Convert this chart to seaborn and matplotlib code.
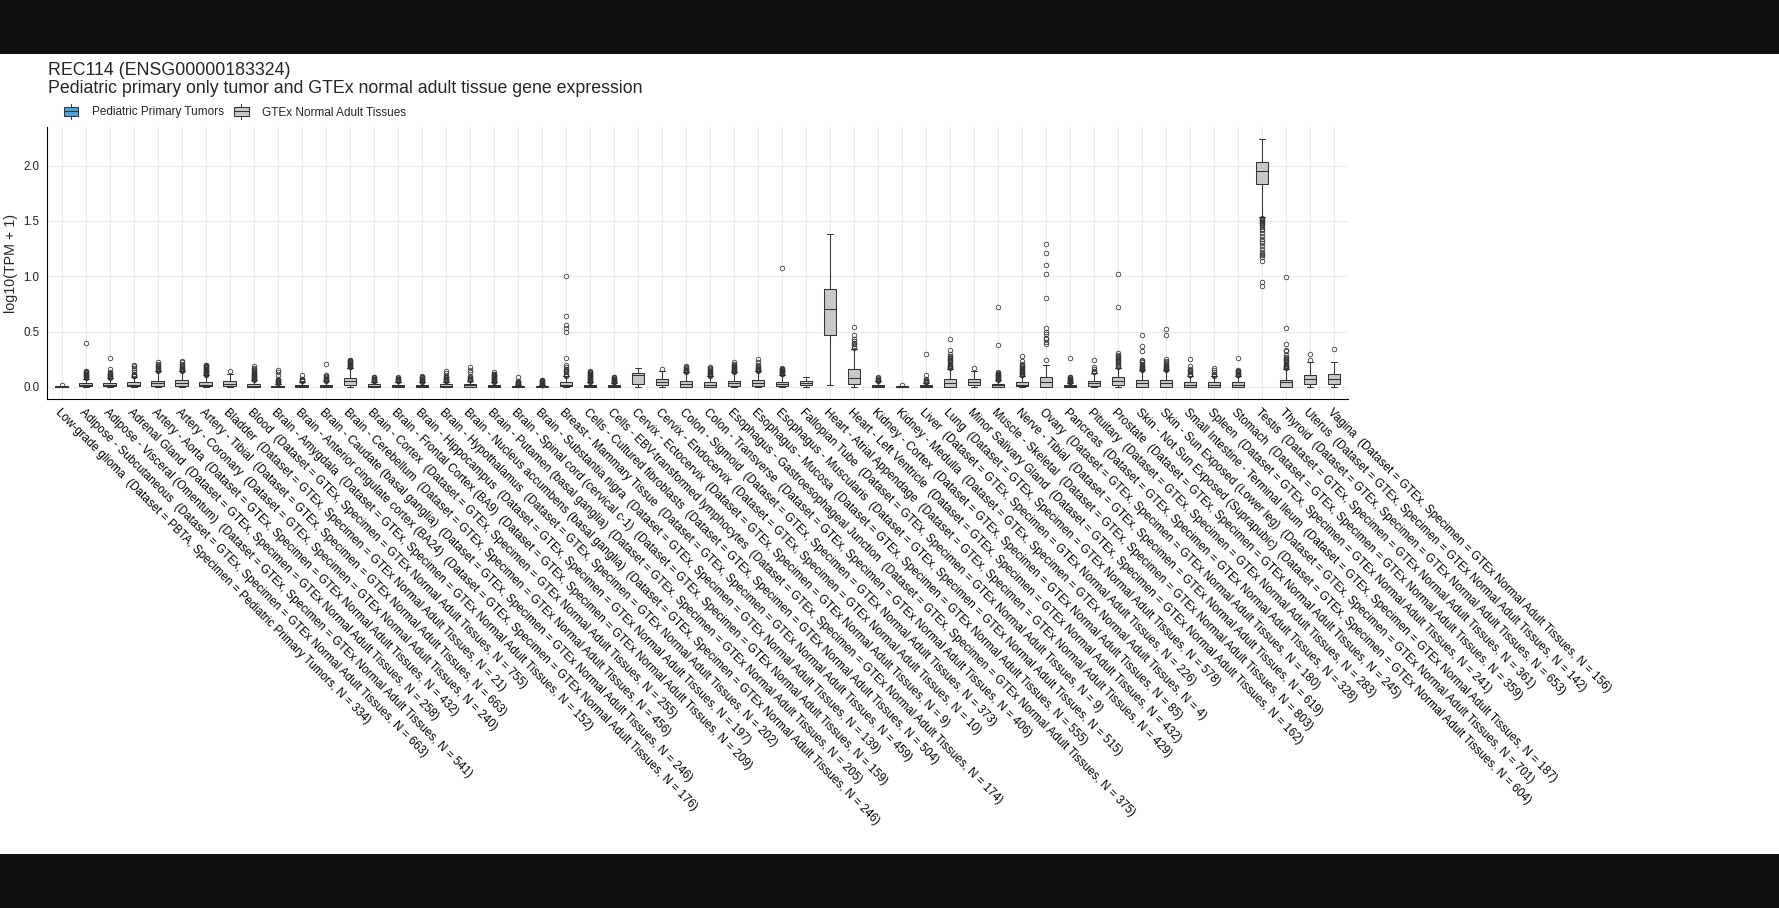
import matplotlib
matplotlib.use("Agg")
import matplotlib.pyplot as plt
import seaborn as sns
from matplotlib.patches import Rectangle, Patch
from matplotlib.lines import Line2D
from matplotlib.legend_handler import HandlerBase

# ---- data ----
tissues = [
    "Low-grade glioma", "Adipose - Subcutaneous", "Adipose - Visceral (Omentum)", "Adrenal Gland",
    "Artery - Aorta", "Artery - Coronary", "Artery - Tibial", "Bladder", "Blood",
    "Brain - Amygdala", "Brain - Anterior cingulate cortex (BA24)", "Brain - Caudate (basal ganglia)",
    "Brain - Cerebellum", "Brain - Cortex", "Brain - Frontal Cortex (BA9)", "Brain - Hippocampus",
    "Brain - Hypothalamus", "Brain - Nucleus accumbens (basal ganglia)", "Brain - Putamen (basal ganglia)",
    "Brain - Spinal cord (cervical c-1)", "Brain - Substantia nigra", "Breast - Mammary Tissue",
    "Cells - Cultured fibroblasts", "Cells - EBV-transformed lymphocytes", "Cervix - Ectocervix",
    "Cervix - Endocervix", "Colon - Sigmoid", "Colon - Transverse", "Esophagus - Gastroesophageal Junction",
    "Esophagus - Mucosa", "Esophagus - Muscularis", "Fallopian Tube", "Heart - Atrial Appendage",
    "Heart - Left Ventricle", "Kidney - Cortex", "Kidney - Medulla", "Liver", "Lung",
    "Minor Salivary Gland", "Muscle - Skeletal", "Nerve - Tibial", "Ovary", "Pancreas", "Pituitary",
    "Prostate", "Skin - Not Sun Exposed (Suprapubic)", "Skin - Sun Exposed (Lower leg)",
    "Small Intestine - Terminal Ileum", "Spleen", "Stomach", "Testis", "Thyroid", "Uterus", "Vagina",
]
datasets = ["PBTA"] + ["GTEx"] * 53
specimens = ["Pediatric Primary Tumors"] + ["GTEx Normal Adult Tissues"] * 53
n_samples = [334, 663, 541, 258, 432, 240, 663, 21, 755, 152, 176, 246, 456, 255, 209, 197, 202, 246,
             205, 159, 139, 459, 504, 174, 9, 10, 373, 406, 375, 555, 515, 9, 429, 432, 85, 4, 226, 578,
             162, 803, 619, 180, 328, 283, 245, 604, 701, 187, 241, 359, 361, 653, 142, 156]

q1 = [0.0, 0.003, 0.003, 0.004, 0.006, 0.006, 0.004, 0.004, 0.002, 0.0, 0.001, 0.002, 0.012, 0.002,
      0.002, 0.001, 0.002, 0.002, 0.001, 0.0, 0.0, 0.003, 0.001, 0.001, 0.025, 0.015, 0.002, 0.002,
      0.003, 0.003, 0.003, 0.018, 0.465, 0.027, 0.001, 0.0, 0.0, 0.002, 0.012, 0.001, 0.003, 0.002,
      0.0, 0.003, 0.015, 0.002, 0.002, 0.002, 0.002, 0.002, 1.831, 0.002, 0.024, 0.027]
medians = [0.002, 0.015, 0.016, 0.02, 0.03, 0.03, 0.02, 0.025, 0.01, 0.003, 0.008, 0.01, 0.05, 0.01,
           0.01, 0.007, 0.01, 0.012, 0.007, 0.002, 0.002, 0.015, 0.007, 0.006, 0.105, 0.045, 0.028,
           0.02, 0.03, 0.03, 0.025, 0.035, 0.70, 0.081, 0.01, 0.002, 0.006, 0.035, 0.045, 0.012, 0.02,
           0.04, 0.007, 0.03, 0.057, 0.03, 0.03, 0.02, 0.02, 0.02, 1.952, 0.042, 0.07, 0.075]
q3 = [0.005, 0.032, 0.034, 0.042, 0.057, 0.058, 0.042, 0.05, 0.025, 0.01, 0.018, 0.02, 0.078, 0.021,
      0.02, 0.016, 0.021, 0.025, 0.016, 0.006, 0.005, 0.04, 0.016, 0.015, 0.125, 0.072, 0.054, 0.04,
      0.057, 0.058, 0.046, 0.057, 0.881, 0.16, 0.02, 0.004, 0.015, 0.07, 0.07, 0.025, 0.043, 0.085,
      0.015, 0.054, 0.085, 0.06, 0.06, 0.042, 0.042, 0.042, 2.033, 0.066, 0.103, 0.115]
whisker_lo = [0.0] * 32 + [0.012] + [0.0] * 17 + [1.538] + [0.0] * 3
whisker_hi = [0.01, 0.075, 0.078, 0.09, 0.14, 0.14, 0.105, 0.12, 0.06, 0.025, 0.045, 0.05, 0.17, 0.045,
              0.045, 0.04, 0.048, 0.055, 0.04, 0.015, 0.012, 0.095, 0.04, 0.035, 0.172, 0.14, 0.13,
              0.095, 0.13, 0.14, 0.11, 0.087, 1.385, 0.344, 0.05, 0.008, 0.035, 0.165, 0.14, 0.06, 0.10,
              0.20, 0.035, 0.125, 0.17, 0.15, 0.15, 0.10, 0.095, 0.10, 2.238, 0.16, 0.22, 0.226]
outliers = [
    [0.015],
    [0.08, 0.085, 0.09, 0.095, 0.10, 0.105, 0.11, 0.115, 0.12, 0.125, 0.13, 0.135, 0.14, 0.145, 0.40],
    [0.082, 0.088, 0.094, 0.10, 0.106, 0.112, 0.118, 0.124, 0.13, 0.165, 0.26],
    [0.095, 0.10, 0.105, 0.11, 0.12, 0.13, 0.15, 0.17, 0.185, 0.20],
    [0.145, 0.15, 0.155, 0.16, 0.17, 0.18, 0.19, 0.20, 0.21, 0.22],
    [0.145, 0.15, 0.155, 0.16, 0.165, 0.17, 0.18, 0.19, 0.20, 0.21, 0.22, 0.23],
    [0.11, 0.115, 0.12, 0.125, 0.13, 0.135, 0.14, 0.145, 0.15, 0.155, 0.16, 0.165, 0.17, 0.175, 0.18,
     0.185, 0.19, 0.195, 0.20],
    [0.145],
    [0.065, 0.07, 0.075, 0.08, 0.085, 0.09, 0.095, 0.10, 0.105, 0.11, 0.115, 0.12, 0.125, 0.13, 0.14,
     0.15, 0.16, 0.17, 0.19],
    [0.03, 0.035, 0.04, 0.045, 0.05, 0.055, 0.06, 0.065, 0.07, 0.11, 0.13, 0.15],
    [0.05, 0.055, 0.06, 0.065, 0.07, 0.075, 0.11],
    [0.055, 0.06, 0.065, 0.07, 0.075, 0.08, 0.09, 0.10, 0.11, 0.21],
    [0.175, 0.18, 0.185, 0.19, 0.195, 0.20, 0.205, 0.21, 0.215, 0.22, 0.225, 0.23, 0.235, 0.24, 0.245],
    [0.05, 0.055, 0.06, 0.065, 0.07, 0.075, 0.08, 0.085, 0.09],
    [0.05, 0.055, 0.06, 0.065, 0.07, 0.075, 0.08, 0.085],
    [0.045, 0.05, 0.055, 0.06, 0.065, 0.07, 0.075, 0.08, 0.085, 0.09, 0.10],
    [0.052, 0.056, 0.06, 0.065, 0.07, 0.075, 0.08, 0.085, 0.09, 0.10, 0.125, 0.14],
    [0.06, 0.065, 0.07, 0.075, 0.08, 0.09, 0.10, 0.13, 0.155, 0.175],
    [0.045, 0.05, 0.055, 0.06, 0.065, 0.07, 0.075, 0.08, 0.085, 0.09, 0.095, 0.10, 0.105, 0.11, 0.115,
     0.12, 0.13],
    [0.018, 0.022, 0.026, 0.03, 0.034, 0.038, 0.042, 0.046, 0.05, 0.085],
    [0.015, 0.02, 0.025, 0.03, 0.035, 0.04, 0.045, 0.05, 0.055, 0.06, 0.065],
    [0.10, 0.11, 0.12, 0.13, 0.14, 0.15, 0.16, 0.18, 0.20, 0.26, 0.50, 0.53, 0.56, 0.64, 1.00],
    [0.045, 0.05, 0.055, 0.06, 0.065, 0.07, 0.075, 0.08, 0.085, 0.09, 0.095, 0.10, 0.105, 0.11, 0.115,
     0.12, 0.125, 0.13, 0.135, 0.14],
    [0.04, 0.045, 0.05, 0.055, 0.06, 0.065, 0.07, 0.075, 0.08, 0.085, 0.09],
    [],
    [0.165],
    [0.135, 0.14, 0.145, 0.15, 0.155, 0.16, 0.17, 0.18, 0.19],
    [0.10, 0.105, 0.11, 0.115, 0.12, 0.125, 0.13, 0.135, 0.14, 0.15, 0.16, 0.17, 0.18],
    [0.135, 0.14, 0.145, 0.15, 0.155, 0.16, 0.165, 0.17, 0.175, 0.18, 0.19, 0.20, 0.21, 0.22],
    [0.145, 0.15, 0.155, 0.16, 0.165, 0.17, 0.18, 0.19, 0.20, 0.22, 0.25],
    [0.115, 0.12, 0.125, 0.13, 0.135, 0.14, 0.145, 0.15, 0.155, 0.16, 0.165, 0.17, 1.075],
    [],
    [],
    [0.355, 0.37, 0.385, 0.40, 0.415, 0.43, 0.47, 0.54],
    [0.055, 0.06, 0.065, 0.07, 0.08, 0.09],
    [0.012],
    [0.04, 0.045, 0.05, 0.055, 0.06, 0.07, 0.11, 0.30],
    [0.17, 0.175, 0.18, 0.185, 0.19, 0.20, 0.21, 0.22, 0.23, 0.24, 0.25, 0.26, 0.27, 0.28, 0.30, 0.33, 0.43],
    [0.17],
    [0.065, 0.07, 0.075, 0.08, 0.085, 0.09, 0.095, 0.10, 0.105, 0.11, 0.115, 0.12, 0.125, 0.13, 0.38, 0.72],
    [0.105, 0.11, 0.115, 0.12, 0.125, 0.13, 0.135, 0.14, 0.145, 0.15, 0.16, 0.17, 0.18, 0.19, 0.20,
     0.21, 0.23, 0.28],
    [0.245, 0.385, 0.405, 0.43, 0.445, 0.475, 0.495, 0.535, 0.80, 1.02, 1.10, 1.21, 1.29],
    [0.04, 0.045, 0.05, 0.055, 0.06, 0.065, 0.07, 0.075, 0.08, 0.085, 0.09, 0.26],
    [0.13, 0.135, 0.14, 0.16, 0.18, 0.24],
    [0.18, 0.19, 0.20, 0.21, 0.22, 0.23, 0.24, 0.25, 0.26, 0.27, 0.28, 0.29, 0.31, 0.72, 1.02],
    [0.155, 0.16, 0.165, 0.17, 0.175, 0.18, 0.19, 0.20, 0.21, 0.22, 0.23, 0.24, 0.32, 0.37, 0.47],
    [0.155, 0.16, 0.165, 0.17, 0.175, 0.18, 0.19, 0.20, 0.21, 0.22, 0.23, 0.25, 0.47, 0.52],
    [0.105, 0.11, 0.115, 0.12, 0.13, 0.14, 0.15, 0.16, 0.19, 0.25],
    [0.10, 0.11, 0.12, 0.135, 0.15, 0.17],
    [0.105, 0.11, 0.115, 0.12, 0.125, 0.13, 0.135, 0.14, 0.145, 0.15, 0.26],
    [1.53, 1.52, 1.51, 1.50, 1.49, 1.48, 1.47, 1.46, 1.45, 1.43, 1.42, 1.39, 1.36, 1.34, 1.32, 1.30,
     1.27, 1.25, 1.22, 1.20, 1.19, 1.17, 1.14, 0.95, 0.91],
    [0.17, 0.175, 0.18, 0.185, 0.19, 0.20, 0.21, 0.22, 0.23, 0.24, 0.25, 0.26, 0.27, 0.29, 0.326, 0.33,
     0.386, 0.53, 0.99],
    [0.245, 0.30],
    [0.344],
]

group_colors = {"Pediatric Primary Tumors": "#4da3dc", "GTEx Normal Adult Tissues": "#c8c8c8"}
edge = "#333333"

labels = [f"{t}  (Dataset = {d}, Specimen = {s}, N = {n})"
          for t, d, s, n in zip(tissues, datasets, specimens, n_samples)]

# ---- style ----
sns.set_theme(style="whitegrid")
plt.rcParams["font.family"] = ["Liberation Sans", "DejaVu Sans"]

W, H = 1779, 908
fig = plt.figure(figsize=(W / 100, H / 100), dpi=100, facecolor="#101010")
fig.add_artist(Rectangle((0, (H - 854) / H), 1, 800 / H, transform=fig.transFigure,
                         facecolor="white", edgecolor="none", zorder=-10))

ax = fig.add_axes([47.3 / W, (H - 399.3) / H, 1301 / W, 272.3 / H])
ax.set_facecolor("white")

stats = [dict(q1=a, med=m, q3=b, whislo=lo, whishi=hi, fliers=f)
         for a, m, b, lo, hi, f in zip(q1, medians, q3, whisker_lo, whisker_hi, outliers)]
bp = ax.bxp(stats, positions=list(range(len(stats))), widths=0.52, capwidths=0.25,
            patch_artist=True, manage_ticks=False,
            boxprops=dict(edgecolor=edge, linewidth=0.75),
            medianprops=dict(color=edge, linewidth=0.75),
            whiskerprops=dict(color=edge, linewidth=0.75),
            capprops=dict(color=edge, linewidth=0.75),
            flierprops=dict(marker="o", markerfacecolor="none", markeredgecolor=edge,
                            markersize=3.3, markeredgewidth=0.55))
for patch, sp in zip(bp["boxes"], specimens):
    patch.set_facecolor(group_colors[sp])

ax.set_xlim(-0.6, len(tissues) - 0.4)
ax.set_ylim(-0.113, 2.35)
ax.set_yticks([0.0, 0.5, 1.0, 1.5, 2.0])
ax.set_yticklabels(["0.0", "0.5", "1.0", "1.5", "2.0"], fontsize=8.3, color="#222222")
ax.set_xticks(list(range(len(tissues))))
ax.set_xticklabels(labels, rotation=-45, ha="left", va="top", rotation_mode="anchor",
                   fontsize=8.35, color="black")
ax.grid(True, color="#ebebeb", linewidth=0.8)
ax.set_axisbelow(True)
sns.despine(ax=ax)
for s in ("left", "bottom"):
    ax.spines[s].set_color("black")
    ax.spines[s].set_linewidth(0.8)
ax.tick_params(axis="both", length=3.5, width=0.7, color="black", pad=2)
ax.set_xlabel("")
ax.set_ylabel("log10(TPM + 1)", fontsize=10.3)
ax.yaxis.set_label_coords(-0.0225, 0.5)


class BoxKey(HandlerBase):
    def create_artists(self, legend, orig_handle, xdescent, ydescent, width, height, fontsize, trans):
        x0, y0 = -xdescent, -ydescent
        cx = x0 + width / 2
        whisk = Line2D([cx, cx], [y0 - 0.3 * height, y0 + 1.3 * height], color=edge, lw=0.75,
                       transform=trans)
        box = Rectangle((x0, y0), width, height, facecolor=orig_handle.get_facecolor(),
                        edgecolor=edge, lw=0.75, transform=trans)
        med = Line2D([x0, x0 + width], [y0 + height / 2] * 2, color=edge, lw=0.75, transform=trans)
        return [whisk, box, med]


handles = [Patch(facecolor=group_colors[k]) for k in group_colors]
fig.legend(handles, list(group_colors), loc="center left", bbox_to_anchor=(64 / W, 1 - 112.5 / H),
           ncol=2, frameon=False, fontsize=8.5, handlelength=1.2, handleheight=0.85,
           handletextpad=1.15, columnspacing=0.9, borderpad=0, borderaxespad=0,
           handler_map={Patch: BoxKey()})

fig.text(48.3 / W, 1 - 75 / H, "REC114 (ENSG00000183324)", fontsize=12.8, va="baseline")
fig.text(48.3 / W, 1 - 93.3 / H, "Pediatric primary only tumor and GTEx normal adult tissue gene expression",
         fontsize=12.75, va="baseline")

fig.savefig("out.png", dpi=100, facecolor=fig.get_facecolor())
